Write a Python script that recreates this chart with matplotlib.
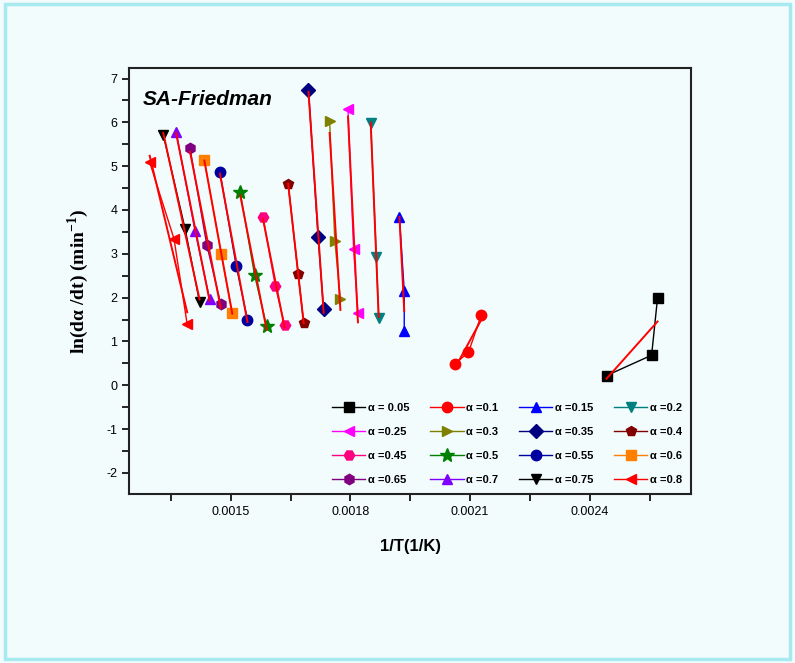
import matplotlib
matplotlib.use("Agg")
import matplotlib.pyplot as plt
import numpy as np
from matplotlib.patches import Rectangle
from matplotlib.ticker import MultipleLocator, FixedLocator

plt.rcParams["axes.unicode_minus"] = False

# conversion levels and their 1/T (1/K), ln(da/dt) points
alphas = ["0.05", "0.1", "0.15", "0.2", "0.25", "0.3", "0.35", "0.4",
          "0.45", "0.5", "0.55", "0.6", "0.65", "0.7", "0.75", "0.8"]
x_pts = [
    [0.002442, 0.002555, 0.002570],
    [0.002062, 0.002096, 0.002128],
    [0.001923, 0.001935, 0.001935],
    [0.001851, 0.001865, 0.001871],
    [0.001794, 0.001808, 0.001819],
    [0.001748, 0.001761, 0.001775],
    [0.001695, 0.001719, 0.001733],
    [0.001644, 0.001669, 0.001683],
    [0.001581, 0.001612, 0.001635],
    [0.001524, 0.001560, 0.001590],
    [0.001473, 0.001514, 0.001542],
    [0.001434, 0.001476, 0.001504],
    [0.001398, 0.001440, 0.001475],
    [0.001363, 0.001411, 0.001447],
    [0.001331, 0.001386, 0.001422],
    [0.001297, 0.001358, 0.001391],
]
y_pts = [
    [0.22, 0.685, 2.00],
    [0.49, 0.75, 1.60],
    [3.84, 2.15, 1.24],
    [5.98, 2.93, 1.53],
    [6.30, 3.12, 1.65],
    [6.03, 3.29, 1.97],
    [6.74, 3.39, 1.73],
    [4.60, 2.55, 1.42],
    [3.84, 2.26, 1.38],
    [4.40, 2.51, 1.35],
    [4.87, 2.72, 1.50],
    [5.14, 3.00, 1.65],
    [5.41, 3.21, 1.86],
    [5.79, 3.51, 1.97],
    [5.72, 3.56, 1.90],
    [5.09, 3.34, 1.39],
]
colors = ["#000000", "#FF0000", "#0000FF", "#008080", "#FF00FF", "#808000",
          "#000080", "#800000", "#FF0080", "#008000", "#0000A0", "#FF8000",
          "#800080", "#8000FF", "#000000", "#FF0000"]
markers = ["s", "o", "^", "v", "<", ">", "D", "p", "H", "*", "o", "s",
           "h", "^", "v", "<"]

bg = "#F2FCFC"
fig = plt.figure(figsize=(7.95, 6.63), dpi=100, facecolor=bg)
fig.patches.append(Rectangle((0.006, 0.006), 0.988, 0.988, transform=fig.transFigure,
                             fill=False, edgecolor="#A6EAF0", linewidth=2.5))
ax = fig.add_axes([0.1627, 0.2551, 0.7061, 0.6416], facecolor=bg)

handles = []
for i, a in enumerate(alphas):
    ms = 10 if markers[i] == "*" else 7.5
    h, = ax.plot(x_pts[i], y_pts[i], color=colors[i], marker=markers[i], markersize=ms,
                 linewidth=1, label="\u03b1 = " + a if i == 0 else "\u03b1 =" + a, zorder=2)
    handles.append(h)
    # linear (Friedman) fit through each set of points
    k, b = np.polyfit(x_pts[i], y_pts[i], 1)
    xf = np.array([min(x_pts[i]), max(x_pts[i])])
    ax.plot(xf, k * xf + b, color="red", linewidth=1.4, zorder=3)

ax.set_xlim(0.001246, 0.002653)
ax.set_ylim(-2.48, 7.23)
ax.xaxis.set_major_locator(FixedLocator([0.0015, 0.0018, 0.0021, 0.0024]))
ax.xaxis.set_minor_locator(FixedLocator([0.00135, 0.00165, 0.00195, 0.00225, 0.00255]))
ax.set_xticklabels(["0.0015", "0.0018", "0.0021", "0.0024"])
ax.yaxis.set_major_locator(MultipleLocator(1))
ax.yaxis.set_minor_locator(MultipleLocator(0.5))
ax.tick_params(which="both", direction="out", length=5, width=1.2, labelsize=9,
               top=False, right=False)
for lab in ax.get_xticklabels() + ax.get_yticklabels():
    lab.set_family("Liberation Sans")
for s in ax.spines.values():
    s.set_linewidth(1.5)
    s.set_color("#222222")

ax.set_xlabel("1/T(1/K)", fontsize=12, fontweight="bold", family="Liberation Sans")
ax.xaxis.set_label_coords(0.5, -0.105)
ax.set_ylabel("ln(d\u03b1 /dt) (min$^{\\mathregular{-1}}$)", fontsize=14, fontweight="bold",
              family="Liberation Serif")
ax.yaxis.set_label_coords(-0.068, 0.5)

ax.text(0.024, 0.926, "SA-Friedman", transform=ax.transAxes, fontsize=15,
        fontweight="bold", fontstyle="italic", family="Liberation Sans", va="center")

# legend fills row by row, as in the reference
order = [r * 4 + c for c in range(4) for r in range(4)]
ax.legend([handles[j] for j in order], [handles[j].get_label() for j in order],
          loc="lower right", bbox_to_anchor=(1.0, 0.0), ncol=4, frameon=False,
          handlelength=3.0, handletextpad=0.2, columnspacing=1.9,
          labelspacing=1.25, borderaxespad=0.4,
          prop={"family": "Liberation Sans", "weight": "bold", "size": 8})

fig.savefig("out.png", dpi=100, facecolor=bg)
